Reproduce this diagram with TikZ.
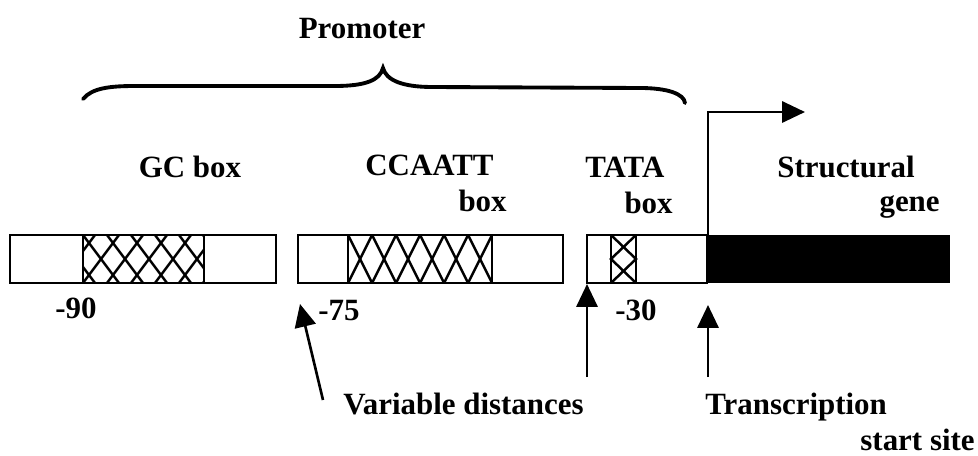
\documentclass[tikz,border=0pt]{standalone}
\usepackage{fontspec}
\setmainfont{Liberation Serif}
\usetikzlibrary{arrows.meta, positioning}

\begin{document}
\begin{tikzpicture}[
			x=0.02cm, y=-0.02cm,
			font=\fontsize{17.6}{21.5}\selectfont\bfseries,
			seg/.style={draw, line width=1.5pt},
			hatch/.style={line width=1.4pt},
			lbl/.style={inner sep=0pt},
			arr/.style={-{Triangle[length=13pt, width=12pt]}, line width=1.5pt}
			]
			\useasboundingbox (0,0) rectangle (978,456);
			
			% promoter brace
			\draw[line width=2.2pt, line cap=round]
				(83,99) .. controls (92,88) and (110,86) .. (135,86)
				-- (335,86) .. controls (366,86) and (380,80) .. (383,68)
				.. controls (386,80) and (402,87) .. (432,87)
				-- (640,88) .. controls (668,88) and (684,94) .. (685,103);
			\node[lbl, anchor=base] (prom) at (362,39) {Promoter};
			
			% GC box
			\begin{scope}
				\clip (83,235) rectangle (204,283);
				\foreach \i in {-2,...,5} {
					\draw[hatch] (83+\i*24,283) -- ++(36,-48);
					\draw[hatch] (83+\i*24,235) -- ++(36,48);
				}
			\end{scope}
			\draw[seg] (10,235) rectangle (276,283);
			\draw[seg] (83,235) rectangle (204,283);
			
			% CCAATT box
			\foreach \i in {0,...,5} {
				\draw[hatch] (348+\i*24,235) -- ++(24,48);
				\draw[hatch] (348+\i*24,283) -- ++(24,-48);
			}
			\draw[seg] (298,235) rectangle (563,283);
			\draw[seg] (348,235) rectangle (492,283);
			
			% TATA box
			\draw[hatch] (611,235) -- (636,259) -- (611,283);
			\draw[hatch] (636,235) -- (611,259) -- (636,283);
			\draw[seg] (587,235) rectangle (707,283);
			\draw[seg] (611,235) rectangle (636,283);
			
			% structural gene
			\fill (707,235) rectangle (950,283);
			
			% labels
			\node[lbl, anchor=base] (gcl) at (190,177) {GC box};
			\node[lbl, anchor=base west] (ccl) at (365,175) {CCAATT};
			\node[lbl, anchor=base east] (ccb) at (507,212) {box};
			\node[lbl, anchor=base west] (tatal) at (585,177) {TATA};
			\node[lbl, anchor=base east] (tatab) at (673,214) {box};
			\node[lbl, anchor=base west] (sgl) at (777,177) {Structural};
			\node[lbl, anchor=base east] (sgb) at (940,212) {gene};
			\node[lbl, anchor=base west] (n90) at (55,318) {-90};
			\node[lbl, anchor=base west] (n75) at (318,320) {-75};
			\node[lbl, anchor=base west] (n30) at (615,320) {-30};
			\node[lbl, anchor=base west] (vd) at (343,414) {Variable distances};
			\node[lbl, anchor=base west] (tr) at (705,414) {Transcription};
			\node[lbl, anchor=base east] (ss) at (975,450) {start site};
			
			% arrows
			\coordinate (va) at (323,400);
			\coordinate (vat) at (300,304);
			\coordinate (vb) at (587,377);
			\coordinate (vbt) at (587,284);
			\coordinate (tsa) at (708,377);
			\coordinate (tst) at (708,305);
			\coordinate (tss) at (708,235);
			\coordinate (txn) at (805,112);
			
			\draw[arr] (va) -- (vat);
			\draw[arr] (vb) -- (vbt);
			\draw[arr] (tsa) -- (tst);
			\draw[arr] (tss) |- (txn);
			
		\end{tikzpicture}
\end{document}
